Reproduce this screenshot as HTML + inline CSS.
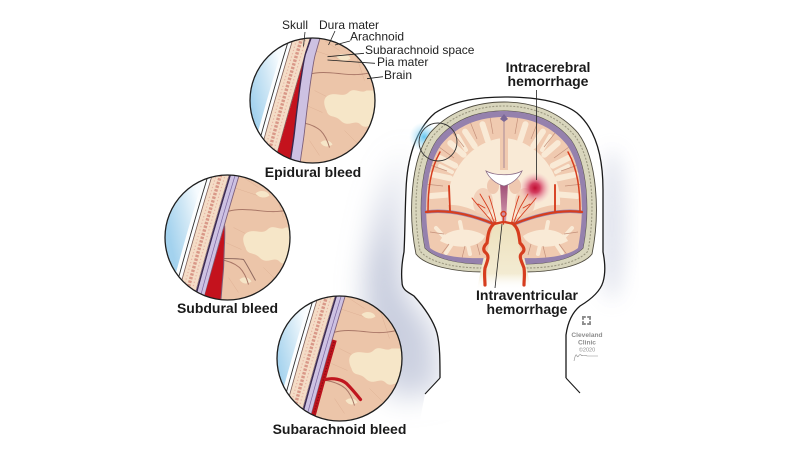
<!DOCTYPE html>
<html><head><meta charset="utf-8"><style>
html,body{margin:0;padding:0;background:#fff;}
svg{display:block;}
text{font-family:"Liberation Sans",Arial,sans-serif;}
</style></head><body>
<svg width="800" height="450" viewBox="0 0 800 450" xmlns="http://www.w3.org/2000/svg">
<defs>
  <filter id="blur14" x="-60%" y="-60%" width="220%" height="220%"><feGaussianBlur stdDeviation="14"/></filter>
  <filter id="blur10" x="-60%" y="-60%" width="220%" height="220%"><feGaussianBlur stdDeviation="10"/></filter>
  <linearGradient id="blueg" gradientUnits="userSpaceOnUse" x1="-64" y1="0" x2="-28" y2="-8">
    <stop offset="0" stop-color="#a3d2ee"/>
    <stop offset="0.55" stop-color="#cfe7f5"/>
    <stop offset="1" stop-color="#f6fbfe"/>
  </linearGradient>
  <radialGradient id="hem">
    <stop offset="0" stop-color="#c10f33"/>
    <stop offset="0.3" stop-color="#cf2a52" stop-opacity="0.9"/>
    <stop offset="0.65" stop-color="#e0708c" stop-opacity="0.45"/>
    <stop offset="1" stop-color="#f3b9c6" stop-opacity="0"/>
  </radialGradient>
  <radialGradient id="bluehl">
    <stop offset="0" stop-color="#55c0ef" stop-opacity="0.9"/>
    <stop offset="1" stop-color="#a8def5" stop-opacity="0"/>
  </radialGradient>
  <linearGradient id="stem" x1="0" y1="0" x2="0" y2="1">
    <stop offset="0" stop-color="#ede1bd"/>
    <stop offset="0.75" stop-color="#f3ebd2"/>
    <stop offset="1" stop-color="#ffffff" stop-opacity="0"/>
  </linearGradient>
  <linearGradient id="sept" x1="0" y1="0" x2="0" y2="1">
    <stop offset="0" stop-color="#9c4a72"/>
    <stop offset="1" stop-color="#d7a2b4"/>
  </linearGradient>
  <linearGradient id="shad" x1="0" y1="0" x2="0" y2="1">
    <stop offset="0" stop-color="#a9b1cb" stop-opacity="0.25"/>
    <stop offset="0.45" stop-color="#a9b1cb" stop-opacity="0.7"/>
    <stop offset="1" stop-color="#a9b1cb" stop-opacity="0.55"/>
  </linearGradient>
  <clipPath id="cc"><circle r="62.5"/></clipPath>
  <clipPath id="bclip"><path d="M 486,258 C 462,259 440,256 430,248 C 423,212 425,168 441,145 C 458,124 481,117 504,117 C 527,117 550,124 567,145 C 583,168 585,212 578,248 C 568,256 546,259 522,258 C 519,245 517,232 514,224 L 494,224 C 491,232 489,245 486,258 Z"/></clipPath>

  <g id="cbase">
    <rect x="-70" y="-70" width="150" height="140" fill="url(#blueg)"/>
    <path d="M -27,-70 Q -47,-5 -67,70 L -59,70 Q -39,-5 -19,-70 Z" fill="#fbfdfe"/>
    <path d="M -23,-70 Q -43,-5 -63,70" fill="none" stroke="#2e2e2e" stroke-width="0.9"/>
    <path d="M 8,-70 Q -12,-5 -32,70 L 80,70 L 80,-70 Z" fill="#ecc5a9"/>
    <g stroke="#d9a98d" stroke-width="0.5" opacity="0.7" fill="none">
      <path d="M 0,-50 L 30,-40 M 0,-10 L 20,0 M 40,-50 L 50,-20 M 30,30 L 50,50 M -5,40 L 5,55 M 55,30 L 62,45 M 10,-60 L 25,-50 M -8,5 L 8,12"/>
    </g>
    <path d="M 12,-4 C 20,-10 28,-2 34,-8 C 40,-14 46,-6 52,-10 L 66,-10 L 66,24 C 56,22 52,30 46,24 C 40,18 34,28 26,20 C 20,14 14,18 12,10 C 10,6 8,0 12,-4 Z" fill="#f6e6c8"/>
    <path d="M 22,-44 C 26,-48 34,-47 36,-42 C 32,-39 26,-39 22,-44 Z" fill="#f6e6c8"/>
    <path d="M 6,42 C 10,38 16,40 18,44 C 14,47 9,47 6,42 Z" fill="#f6e6c8"/>
    <path d="M -6,-26 C 4,-29 14,-28 24,-27 C 34,-26 44,-24 66,-30" fill="none" stroke="#a97767" stroke-width="1"/>
    <path d="M -14,22 C -6,23 0,25 6,30 C 10,34 13,40 15,47" fill="none" stroke="#a97767" stroke-width="1"/>
    <path d="M -19,-70 Q -39,-5 -59,70 L -42,70 Q -22,-5 -2,-70 Z" fill="#f4dcc6" stroke="#7c5d57" stroke-width="0.8"/>
    <path d="M -10.5,-70 Q -30.5,-5 -50.5,70" fill="none" stroke="#d99888" stroke-width="3.4" stroke-dasharray="2.4 1.4"/>
    <path d="M -15,-70 Q -35,-5 -55,70" fill="none" stroke="#e7b3a3" stroke-width="1.2" stroke-dasharray="1.2 2.2"/>
    <path d="M -6,-70 Q -26,-5 -46,70" fill="none" stroke="#e7b3a3" stroke-width="1.2" stroke-dasharray="1.2 2.2"/>
  </g>
  <g id="dura">
    <path d="M -2,-70 Q -22,-5 -42,70 L -32,70 Q -12,-5 8,-70 Z" fill="#cdc1e2"/>
    <path d="M -1,-70 Q -21,-5 -41,70" stroke="#3a2950" stroke-width="1.5" fill="none"/>
    <path d="M 4,-70 Q -16,-5 -36,70" stroke="#7a66a0" stroke-width="0.7" fill="none"/>
    <path d="M 8,-70 Q -12,-5 -32,70" stroke="#7d5f7a" stroke-width="0.9" fill="none"/>
  </g>
</defs>

<rect width="800" height="450" fill="#ffffff"/>

<!-- background shading -->
<path d="M 408,150 C 398,190 398,250 402,290 C 412,305 430,320 436,340 L 440,392 L 392,398 C 368,360 358,300 372,240 C 378,195 392,160 408,150 Z" fill="url(#shad)" filter="url(#blur14)"/>
<ellipse cx="612" cy="225" rx="12" ry="75" fill="#b9bfd6" opacity="0.45" filter="url(#blur10)"/>

<!-- head -->
<path d="M 440,378 C 440,360 440,345 437,333 C 434,322 425,308 414,296 C 408,292 402,290 402,282 C 401,272 402,262 404,252 C 405,235 405,210 406,190 C 407,160 415,130 435,113 C 455,100 480,97 505,97 C 530,97 560,100 577,113 C 597,130 603,160 603,190 C 603,210 603,235 603,252 C 605,262 606,272 603,282 C 600,292 590,300 580,306 C 574,311 568,320 566,335 L 566,378 L 580,393 L 600,420 L 420,420 L 425,394 Z" fill="#ffffff"/>
<path d="M 440,378 C 440,360 440,345 437,333 C 434,322 425,308 414,296 C 408,292 402,290 402,282 C 401,272 402,262 404,252 C 405,235 405,210 406,190 C 407,160 415,130 435,113 C 455,100 480,97 505,97 C 530,97 560,100 577,113 C 597,130 603,160 603,190 C 603,210 603,235 603,252 C 605,262 606,272 603,282 C 600,292 590,300 580,306 C 574,311 568,320 566,335 L 566,378" fill="none" stroke="#1a1a1a" stroke-width="1.3"/>
<path d="M 425,394 L 440,378 M 566,378 L 580,393" fill="none" stroke="#1a1a1a" stroke-width="1.1"/>

<!-- blue highlight glow -->
<circle cx="424" cy="137" r="15" fill="url(#bluehl)"/>

<!-- skull ring -->
<path d="M 484,272 C 455,272 425,266 416,254 C 408,215 410,160 430,133 C 450,110 478,102 504,102 C 530,102 558,110 578,133 C 598,160 600,215 592,254 C 583,266 553,272 524,272 L 524,264 C 550,264 572,259 583,248 C 590,212 588,165 571,140 C 553,118 528,111 504,111 C 480,111 455,118 437,140 C 420,165 418,212 425,248 C 436,259 458,264 484,264 Z" fill="#d9d6bd" stroke="#4e4a3e" stroke-width="0.9"/>
<path d="M 482,268 C 456,268 430,263 420,251 C 413,213 414,162 433,136 C 452,114 479,106 504,106 C 529,106 556,114 575,136 C 594,162 595,213 588,251 C 578,263 552,268 526,268" fill="none" stroke="#9c9880" stroke-width="1.1" stroke-dasharray="2 1.5"/>
<!-- purple meninges -->
<path d="M 484,264 C 458,264 436,259 425,248 C 418,212 420,165 437,140 C 455,118 480,111 504,111 C 528,111 553,118 571,140 C 588,165 590,212 583,248 C 572,259 550,264 524,264 Z" fill="#9581ad"/>

<!-- brainstem cream -->
<path d="M 492,224 L 516,224 C 520,240 526,262 531,290 L 477,290 C 482,262 488,240 492,224 Z" fill="url(#stem)"/>

<!-- brain -->
<path d="M 486,258 C 462,259 440,256 430,248 C 423,212 425,168 441,145 C 458,124 481,117 504,117 C 527,117 550,124 567,145 C 583,168 585,212 578,248 C 568,256 546,259 522,258 C 519,245 517,232 514,224 L 494,224 C 491,232 489,245 486,258 Z" fill="#f0cab0"/>
<g clip-path="url(#bclip)">
  <!-- white matter -->
  <path d="M 448,205 C 446,172 472,140 504,138 C 536,140 562,172 560,205 C 545,204 528,212 514,222 L 494,222 C 480,212 463,204 448,205 Z" fill="#f9ead6"/>
  <g stroke="#f9ead6" stroke-width="6" stroke-linecap="round" fill="none">
    <path d="M 487.8,140.5 L 482.5,124.2 M 474.7,146.1 L 465.1,131.6 M 463.6,154.7 L 450.3,143.1 M 455.2,165.7 L 439.1,157.7 M 450.1,178.3 L 432.4,174.5 M 448.9,194.5 L 430.8,196"/>
    <path d="M 520.2,140.5 L 525.5,124.2 M 533.3,146.1 L 542.9,131.6 M 544.4,154.7 L 557.7,143.1 M 552.8,165.7 L 568.9,157.7 M 557.9,178.3 L 575.6,174.5 M 559.1,194.5 L 577.2,196"/>
    <path d="M 466,150 L 458,136 M 542,150 L 550,136 M 452,172 L 440,166 M 556,172 L 568,166" stroke-width="4"/>
  </g>
  <!-- temporal white matter -->
  <path d="M 440,241 C 446,228 470,226 485,236 C 480,247 460,251 440,241 Z" fill="#f9ead6"/>
  <path d="M 568,241 C 562,228 538,226 523,236 C 528,247 548,251 568,241 Z" fill="#f9ead6"/>
  <g stroke="#f9ead6" stroke-width="4" stroke-linecap="round" fill="none">
    <path d="M 445,238 L 436,228 M 452,244 L 446,253 M 468,245 L 470,254 M 462,232 L 460,222"/>
    <path d="M 563,238 L 572,228 M 556,244 L 562,253 M 540,245 L 538,254 M 546,232 L 548,222"/>
  </g>
  <!-- midline -->
  <path d="M 504,117 L 504,170" stroke="#f0cab0" stroke-width="8"/>
  <g stroke="#c4907a" stroke-width="0.7" fill="none">
    <path d="M 490,117 L 493,134 M 470.6,123 L 477,139 M 453,133 L 464,147 M 439,147 L 454,158 M 430,165 L 447,171 M 425,184 L 443,186"/>
    <path d="M 518,117 L 515,134 M 537.4,123 L 531,139 M 555,133 L 544,147 M 569,147 L 554,158 M 578,165 L 561,171 M 583,184 L 565,186"/>
    <path d="M 504,117 L 504,168" stroke="#a88a98" stroke-width="1"/>
    <path d="M 440,256 L 449,244 M 462,258 L 465,246 M 480,255 L 477,244 M 430,232 L 444,234"/>
    <path d="M 568,256 L 559,244 M 546,258 L 543,246 M 528,255 L 531,244 M 578,232 L 564,234"/>
  </g>
  <!-- deep structures -->
  <ellipse cx="483" cy="202" rx="10" ry="14" fill="#f2d1bb"/>
  <ellipse cx="525" cy="202" rx="10" ry="14" fill="#f2d1bb"/>
  <ellipse cx="493" cy="186" rx="6" ry="8" fill="#efc8b0"/>
  <ellipse cx="515" cy="186" rx="6" ry="8" fill="#efc8b0"/>
  <!-- lateral sulci -->
  <path d="M 426,212 C 448,209 472,215 494,224" fill="none" stroke="#f0cab0" stroke-width="10"/>
  <path d="M 582,212 C 560,209 536,215 514,224" fill="none" stroke="#f0cab0" stroke-width="10"/>
  <path d="M 426,212 C 448,209 472,215 494,224" fill="none" stroke="#9b87b3" stroke-width="3.5"/>
  <path d="M 582,212 C 560,209 536,215 514,224" fill="none" stroke="#9b87b3" stroke-width="3.5"/>
</g>
<path d="M 504,114 L 500,119 L 504,122 L 508,119 Z" fill="#7a6796"/>

<!-- ventricles -->
<path d="M 500,182 L 508,182 L 506,223 L 502,223 Z" fill="url(#sept)"/>
<path d="M 486,171 C 495,176 513,176 522,171 C 519,178 512,184 504,186 C 496,184 489,178 486,171 Z" fill="#ffffff" stroke="#8a6c86" stroke-width="0.8"/>

<!-- hemorrhage -->
<circle cx="535" cy="188" r="16" fill="url(#hem)"/>

<!-- arteries -->
<g fill="none" stroke="#d63d1e" stroke-linecap="round">
  <path d="M 426,212 C 448,209 472,215 494,224 L 503,222" stroke-width="2.3"/>
  <path d="M 582,212 C 560,209 536,215 514,224 L 505,222" stroke-width="2.3"/>
  <path d="M 428,212 C 428,190 430,170 440,152" stroke-width="1.5"/>
  <path d="M 580,212 C 580,190 578,170 568,152" stroke-width="1.5"/>
  <path d="M 450,211 L 449,186" stroke-width="1.9"/>
  <path d="M 555,211 L 555,185" stroke-width="1.9"/>
  <g stroke-width="0.9">
    <path d="M 494,222 C 490,210 486,204 480,194 M 492,222 C 486,214 478,206 472,198 M 496,221 C 494,212 492,204 489,196 M 485,208 L 478,204"/>
    <path d="M 514,222 C 518,210 522,204 528,194 M 516,222 C 522,214 530,206 536,198 M 512,221 C 514,212 516,204 519,196 M 523,208 L 530,204"/>
  </g>
  <circle cx="503.5" cy="214" r="2.5" stroke-width="1.4"/>
  <path d="M 503.5,217 L 503.5,224" stroke-width="1.4"/>
  <path d="M 495,223 C 488,228 488,236 487,243 C 484,246 482,250 486,253 C 490,256 487,262 485,268 C 484,274 485,280 485,285" stroke-width="3.2"/>
  <path d="M 512,223 C 519,228 519,236 520,243 C 523,246 526,250 522,253 C 518,256 522,262 524,268 C 525,274 524,280 524,285" stroke-width="3.2"/>
</g>

<!-- highlight circle -->
<circle cx="438" cy="142" r="19" fill="none" stroke="#333" stroke-width="0.9"/>

<!-- leader lines -->
<path d="M 536.5,90 L 536.5,180 M 495,288 L 502,224" stroke="#222" stroke-width="0.8" fill="none"/>

<!-- coronal labels -->
<g font-weight="bold" font-size="14" fill="#1a1a1a" text-anchor="middle">
  <text x="548" y="72">Intracerebral</text>
  <text x="548" y="86">hemorrhage</text>
  <text x="527" y="300">Intraventricular</text>
  <text x="527" y="314">hemorrhage</text>
</g>

<!-- Cleveland Clinic -->
<g fill="#8e8e8e">
  <rect x="582" y="316" width="9" height="9"/>
  <rect x="584" y="318" width="5" height="5" fill="#fff"/>
  <rect x="585.8" y="316" width="1.4" height="9" fill="#fff"/>
  <rect x="582" y="319.8" width="9" height="1.4" fill="#fff"/>
  <text x="587" y="337" font-size="6.6" font-weight="bold" text-anchor="middle">Cleveland</text>
  <text x="587" y="344.5" font-size="6.6" font-weight="bold" text-anchor="middle">Clinic</text>
  <text x="587" y="351.5" font-size="5.5" text-anchor="middle">©2020</text>
</g>
<path d="M 574,361 C 575,356 576,353 577,356 C 578,359 579,353 581,355 C 583,357 585,354 587,356 L 598,356" fill="none" stroke="#8a8a8a" stroke-width="0.6"/>

<!-- Circle 1: Epidural -->
<g transform="translate(312.5,100.5)">
  <g clip-path="url(#cc)">
    <g transform="translate(2,0)">
      <use href="#cbase"/>
      <path d="M -2,-70 L -42.3,70 L -15.3,70 C -14,60 -13.5,55 -12.6,50 C -11.5,42 -10.5,36 -9.9,30 C -8.5,18 -7.5,8 -6.3,0 C -5,-12 -3.5,-22 -2.2,-30 C -1,-38 0,-44 1.4,-48 L 7.7,-70 Z" fill="#cdc1e2"/>
      <path d="M -1,-70 L -8.6,-48" stroke="#3a2950" stroke-width="1.4"/>
      <path d="M -8.6,-48 L -42.3,70 L -25.3,70 C -24,60 -23.5,55 -22.6,50 C -21.5,42 -20.5,36 -19.9,30 C -18.5,18 -17.5,8 -16.3,0 C -15,-12 -13.5,-22 -12.2,-30 C -11,-38 -10,-44 -8.6,-48 Z" fill="#c4121d"/>
      <path d="M -25.3,70 C -24,60 -23.5,55 -22.6,50 C -21.5,42 -20.5,36 -19.9,30 C -18.5,18 -17.5,8 -16.3,0 C -15,-12 -13.5,-22 -12.2,-30 C -11,-38 -10,-44 -8.6,-48 L -1,-70" fill="none" stroke="#3a2950" stroke-width="1.4"/>
      <path d="M -15.3,70 C -14,60 -13.5,55 -12.6,50 C -11.5,42 -10.5,36 -9.9,30 C -8.5,18 -7.5,8 -6.3,0 C -5,-12 -3.5,-22 -2.2,-30 C -1,-38 0,-44 1.4,-48 L 7.7,-70" fill="none" stroke="#7d5f7a" stroke-width="0.9"/>
    </g>
  </g>
  <circle r="62.5" fill="none" stroke="#1e1e1e" stroke-width="1.3"/>
</g>

<!-- Circle 2: Subdural -->
<g transform="translate(227.5,237.5)">
  <g clip-path="url(#cc)">
    <g transform="translate(6,0)">
      <use href="#cbase"/>
      <use href="#dura"/>
      <path d="M -8.9,-12 L -32.3,70 L -13.3,70 C -12.5,62 -12,56 -11.6,50 C -11,42 -10.3,36 -9.9,30 C -9.6,22 -9.4,16 -9.2,10 C -8.8,2 -8.5,-6 -8.9,-12 Z" fill="#c4121d"/>
      <path d="M -13.3,70 C -12.5,62 -12,56 -11.6,50 C -11,42 -10.3,36 -9.9,30 C -9.6,22 -9.4,16 -9.2,10 C -8.8,2 -8.5,-6 -8.9,-12" fill="none" stroke="#7d5f7a" stroke-width="1"/>
      <path d="M -10,21 C -4,21 4,21 10,22 C 14,28 18,36 22,43" fill="none" stroke="#8f6a60" stroke-width="1"/>
    </g>
  </g>
  <circle r="62.5" fill="none" stroke="#1e1e1e" stroke-width="1.3"/>
</g>

<!-- Circle 3: Subarachnoid -->
<g transform="translate(339.5,358.5)">
  <g clip-path="url(#cc)">
    <use href="#cbase"/>
    <use href="#dura"/>
    <path d="M 10.5,-70 Q -9.5,-5 -29.5,70" fill="none" stroke="#bb131d" stroke-width="4.5" stroke-dasharray="0 54 200"/>
    <path d="M 10.5,-70 Q -9.5,-5 -29.5,70" fill="none" stroke="#7f0a12" stroke-width="1.2" stroke-dasharray="0 56 1 2 1 2 1 2 1 2 1 2 1 2 1 2 1 2 1 2 1 2 1 2 1 2 1 2 1 2 1 2 1 2 1 2 1 2 1 2 1 2 1 2 1 2 1 2 1 2 1 2 1 2 1 2 1 2 1 2 1 2 1 2 1 2 1 2 1 2 1 2"/>
    <path d="M -14,21 C -6,19 2,21 7,25 C 12,30 17,36 21,41" fill="none" stroke="#c0161f" stroke-width="3.2" stroke-linecap="round"/>
  </g>
  <circle r="62.5" fill="none" stroke="#1e1e1e" stroke-width="1.3"/>
</g>

<!-- anatomy labels -->
<g font-size="12" fill="#1f1f1f">
  <text x="282" y="29">Skull</text>
  <text x="319" y="29">Dura mater</text>
  <text x="350" y="40.5">Arachnoid</text>
  <text x="365" y="54">Subarachnoid space</text>
  <text x="377" y="66">Pia mater</text>
  <text x="384" y="79">Brain</text>
</g>
<path d="M 305,32 L 303.5,46.5 M 335,31 L 328.5,45 M 350,41 L 335,45 M 364,53.3 L 327.5,56.7 M 375,63.3 L 327.5,60 M 383,76.7 L 367,78.7" stroke="#222" stroke-width="0.8" fill="none"/>

<!-- bleed titles -->
<g font-weight="bold" font-size="14" fill="#1a1a1a" text-anchor="middle">
  <text x="313" y="177">Epidural bleed</text>
  <text x="227.5" y="313">Subdural bleed</text>
  <text x="339.5" y="434">Subarachnoid bleed</text>
</g>
</svg>
</body></html>
